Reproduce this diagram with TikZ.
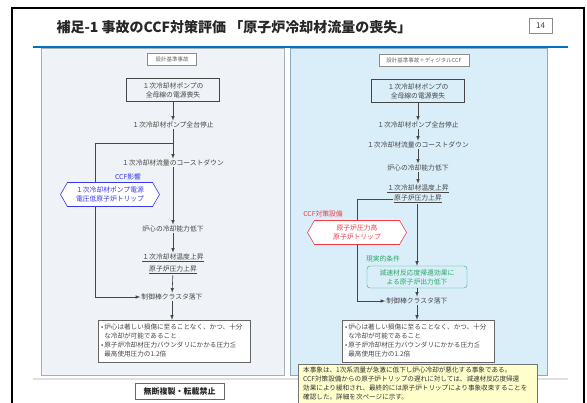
\documentclass[tikz,border=0pt]{standalone}
\usepackage{fontspec}
\setmainfont{Noto Sans CJK JP}
\usetikzlibrary{arrows,shapes.symbols}

\definecolor{hdrblue}{RGB}{0,112,192}
\definecolor{lpanel}{RGB}{239,242,246}
\definecolor{lborder}{RGB}{165,175,182}
\definecolor{rpanel}{RGB}{218,238,250}
\definecolor{rborder}{RGB}{140,170,190}
\definecolor{ccfblue}{RGB}{55,55,235}
\definecolor{ccfred}{RGB}{240,60,70}
\definecolor{realgreen}{RGB}{40,170,100}
\definecolor{notefill}{RGB}{255,255,204}
\definecolor{flowgray}{RGB}{70,70,70}

\tikzset{
  flowtxt/.style={font=\fontsize{6.8}{9}\selectfont, text=flowgray, inner sep=1pt, align=center},
  flowbox/.style={flowtxt, draw=flowgray, line width=0.6pt, minimum width=93pt, minimum height=23pt},
  tagbox/.style={draw=black!45, fill=white, font=\fontsize{5.5}{6}\selectfont, text=black!60, minimum height=12pt, inner sep=1pt},
  hexbox/.style={signal, signal to=west and east, signal pointer angle=120, fill=white, line width=0.6pt,
    minimum width=99pt, minimum height=24pt, inner sep=1pt, align=center, font=\fontsize{6.8}{9}\selectfont},
  concbox/.style={draw=black!60, fill=white, text=flowgray, text width=146pt, align=left, inner xsep=3pt, inner ysep=2pt,
    minimum height=42pt, font=\fontsize{6.6}{9}\selectfont},
  link/.style={draw=flowgray, line width=0.6pt},
}

\begin{document}
\begin{tikzpicture}[x=1pt,y=-1pt]
\clip (0,0) rectangle (587,403);
% frame and header
\draw[line width=1.5pt] (12,8) rectangle (584,430);
\node[anchor=west, font=\fontsize{14}{16}\selectfont\bfseries, text=black!85] (title) at (53,27) {補足-1 事故のCCF対策評価 「原子炉冷却材流量の喪失」};
\node[draw=black!45, font=\fontsize{8}{9}\selectfont, text=black!75, minimum width=23pt, minimum height=15pt, inner sep=1pt] (pageno) at (540.5,25.5) {14};
% panels
\filldraw[fill=lpanel, draw=lborder, line width=0.8pt] (41,48) rectangle (284,375);
\filldraw[fill=rpanel, draw=rborder, line width=0.8pt] (290,48) rectangle (547,375);
\draw[hdrblue, line width=2pt] (33,47) -- (568,47);
\draw[black!12, line width=1.5pt] (33,379) -- (568,379);

% left: design basis accident
\node[tagbox, minimum width=49pt] (tagL) at (172,59) {設計基準事故};
\node[flowbox] (a1) at (173,90) {１次冷却材ポンプの\\全母線の電源喪失};
\node[flowtxt] (a2) at (173,125) {１次冷却材ポンプ全台停止};
\node[flowtxt] (a3) at (173,163) {１次冷却材流量のコーストダウン};
\node[flowtxt] (a4) at (173,229) {炉心の冷却能力低下};
\node[flowtxt] (a5) at (173,258) {\underline{１次冷却材温度上昇}};
\node[flowtxt] (a6) at (173,270) {\underline{原子炉圧力上昇}};
\node[flowtxt] (a7) at (172,297) {制御棒クラスタ落下};
\node[font=\fontsize{6.8}{8}\selectfont, text=ccfblue, inner sep=1pt] (ccfL) at (128,177) {CCF影響};
\node[hexbox, draw=ccfblue, text=ccfblue] (hexL) at (110,194.5) {１次冷却材ポンプ電源\\電圧低原子炉トリップ};
\node[concbox] (concL) at (174,341) {•\,炉心は著しい損傷に至ることなく、かつ、十分\\\hphantom{•\,}な冷却が可能であること\\•\,原子炉冷却材圧力バウンダリにかかる圧力≦\\\hphantom{•\,}最高使用圧力の1.2倍};
\coordinate (brL) at (173,143);
\coordinate (lnL) at (95,0);
\draw[link,-latex] (a1) -- (a2);
\draw[link,-latex] (a2) -- (a3);
\draw[link] (brL) -| (hexL.north -| lnL);
\draw[link,-latex] (hexL.south -| lnL) |- (a7.west);
\draw[link,-latex] (a3) -- (a4);
\draw[link,-latex] (a4) -- (a5);
\draw[link,-latex] (a6) -- (a7);
\draw[link,-latex] (a7) -- (concL.north -| a7);

% right: design basis accident + digital CCF
\node[tagbox, minimum width=90pt] (tagR) at (424,60) {設計基準事故＋ディジタルCCF};
\node[flowbox] (b1) at (418,91) {１次冷却材ポンプの\\全母線の電源喪失};
\node[flowtxt] (b2) at (418,125) {１次冷却材ポンプ全台停止};
\node[flowtxt] (b3) at (418,145) {１次冷却材流量のコーストダウン};
\node[flowtxt] (b4) at (418,168) {炉心の冷却能力低下};
\node[flowtxt] (b5) at (418,189) {\underline{１次冷却材温度上昇}};
\node[flowtxt] (b6) at (418,199) {\underline{原子炉圧力上昇}};
\node[font=\fontsize{6.8}{8}\selectfont, text=ccfred, inner sep=1pt] (ccfR) at (323,214) {CCF対策設備};
\node[hexbox, draw=ccfred, text=ccfred] (hexR) at (357,232.5) {原子炉圧力高\\原子炉トリップ};
\node[font=\fontsize{6.8}{8}\selectfont, text=realgreen, inner sep=1pt] (realR) at (383,259) {現実的条件};
\node[flowtxt, draw=realgreen, text=realgreen, rounded corners=3pt, minimum width=100pt, minimum height=22pt] (grR) at (417,277) {減速材反応度帰還効果に\\よる原子炉出力低下};
\node[flowtxt] (b7) at (417,301) {制御棒クラスタ落下};
\node[concbox] (concR) at (418,341) {•\,炉心は著しい損傷に至ることなく、かつ、十分\\\hphantom{•\,}な冷却が可能であること\\•\,原子炉冷却材圧力バウンダリにかかる圧力≦\\\hphantom{•\,}最高使用圧力の1.2倍};
\draw[link,-latex] (b1) -- (b2);
\draw[link,-latex] (b2) -- (b3);
\draw[link,-latex] (b3) -- (b4);
\draw[link,-latex] (b4) -- (b5);
\draw[link] (b6.west) -| (hexR.north);
\draw[link,-latex] (hexR.south) |- (b7.west);
\draw[link,-latex] (b6.south -| grR) -- (grR.north);
\draw[link,-latex] (grR) -- (b7);
\draw[link,-latex] (b7) -- (concR.north -| b7);

% note and footer
\node[draw=black!55, fill=notefill, anchor=north west, text=black!80, text width=229pt, align=left, inner xsep=5pt, inner ysep=3pt,
  font=\fontsize{6.6}{9}\selectfont] (note) at (298,364) {本事象は、1次系流量が急激に低下し炉心冷却が悪化する事象である。\\CCF対策設備からの原子炉トリップの遅れに対しては、減速材反応度帰還\\効果により緩和され、最終的には原子炉トリップにより事象収束することを\\確認した。詳細を次ページに示す。};
\node[draw=black!60, fill=white, font=\fontsize{8}{9}\selectfont\bfseries, text=black!85, minimum width=89pt, minimum height=16pt, inner sep=1pt] (notice) at (179.5,391) {無断複製・転載禁止};
\end{tikzpicture}
\end{document}
